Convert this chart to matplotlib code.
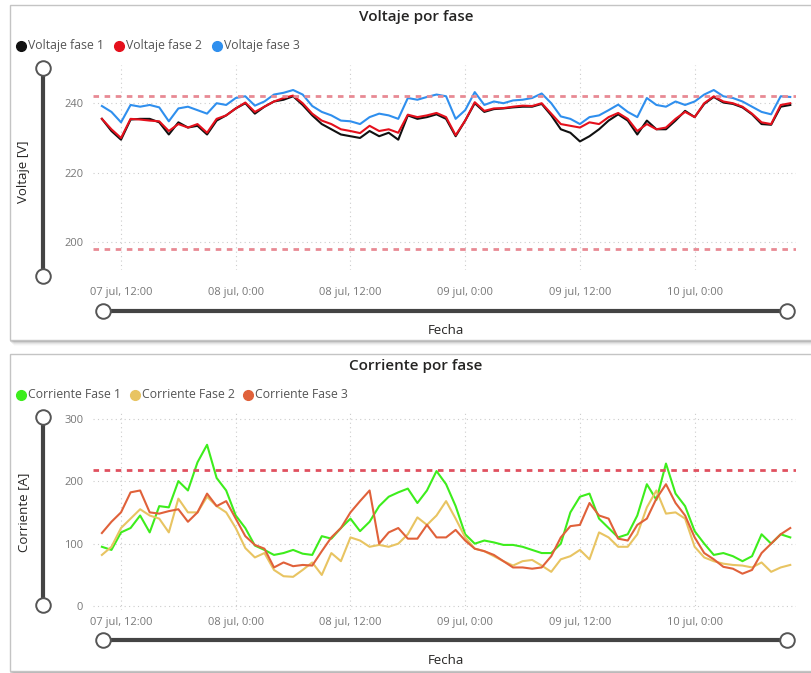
import numpy as np
import matplotlib.pyplot as plt
from matplotlib.patches import Rectangle

plt.rcParams['font.family'] = ['Open Sans', 'DejaVu Sans']

# horas desde el 07 jul 0:00
horas = np.arange(10, 83)

v_fase1 = [235.5, 232.0, 229.5, 235.3, 235.5, 235.5, 234.5, 231.0, 234.5, 233.0,
           233.5, 231.0, 235.0, 236.5, 238.5, 240.0, 237.0, 239.0, 240.5, 241.0,
           242.0, 239.5, 236.5, 234.0, 232.5, 231.0, 230.5, 230.0, 232.0, 230.5,
           231.5, 229.5, 236.5, 235.5, 236.0, 236.8, 235.5, 230.5, 235.0, 240.0,
           237.5, 238.3, 238.5, 238.8, 239.0, 239.0, 239.8, 236.5, 232.5, 231.5,
           229.0, 230.5, 232.5, 235.0, 236.8, 235.0, 231.0, 235.0, 232.5, 232.5,
           235.0, 237.8, 236.0, 239.8, 241.8, 240.2, 239.8, 238.8, 236.8, 234.0,
           233.8, 239.0, 239.5]
v_fase2 = [235.5, 232.5, 230.0, 235.5, 235.3, 235.0, 234.8, 232.0, 234.0, 233.0,
           234.0, 231.5, 235.5, 236.5, 238.5, 240.2, 237.5, 239.0, 240.5, 241.5,
           242.2, 240.0, 237.0, 235.0, 234.0, 232.5, 232.0, 231.4, 233.5, 232.0,
           232.5, 231.5, 236.7, 236.0, 236.5, 237.2, 236.0, 230.8, 235.0, 240.3,
           237.8, 238.5, 238.6, 239.0, 239.3, 239.2, 240.0, 237.0, 234.0, 233.5,
           233.0, 234.5, 234.0, 236.0, 237.2, 235.5, 232.0, 234.0, 232.5, 233.0,
           235.5, 237.5, 236.0, 240.0, 242.0, 240.5, 240.0, 239.0, 237.0, 234.5,
           234.0, 239.5, 240.0]
v_fase3 = [239.2, 237.5, 234.5, 239.5, 239.0, 239.5, 238.8, 234.8, 238.5, 239.0,
           238.0, 237.0, 240.0, 239.5, 241.5, 242.0, 239.3, 240.5, 242.5, 243.0,
           243.8, 242.5, 239.2, 237.5, 236.5, 235.0, 234.8, 234.0, 236.0, 237.0,
           236.5, 235.5, 241.5, 241.0, 241.8, 242.5, 242.0, 235.5, 238.0, 243.2,
           239.5, 240.5, 240.0, 240.8, 241.0, 241.5, 242.8, 240.0, 236.2, 235.5,
           234.0, 236.0, 236.5, 238.0, 239.6, 237.5, 236.0, 241.5, 239.5, 239.0,
           240.5, 239.5, 240.5, 242.5, 243.8, 242.0, 241.5, 240.5, 239.0, 237.5,
           236.8, 242.0, 241.8]

i_fase1 = [95, 90, 118, 125, 145, 118, 160, 158, 200, 185,
           230, 258, 205, 185, 145, 125, 97, 90, 82, 85,
           90, 84, 82, 112, 108, 125, 140, 120, 135, 160,
           175, 182, 188, 165, 185, 216, 195, 160, 115, 100,
           105, 102, 98, 98, 95, 90, 85, 85, 100, 150,
           175, 180, 140, 125, 110, 115, 145, 195, 170, 228,
           180, 160, 120, 100, 82, 85, 80, 72, 80, 115,
           100, 115, 110]
i_fase2 = [82, 95, 125, 140, 155, 145, 140, 118, 172, 150,
           150, 175, 160, 150, 125, 93, 78, 85, 58, 48,
           47, 58, 70, 50, 85, 72, 110, 105, 95, 98,
           95, 100, 115, 142, 130, 145, 168, 140, 110, 92,
           88, 80, 72, 65, 72, 74, 65, 55, 75, 80,
           90, 75, 118, 110, 95, 95, 115, 158, 185, 148,
           150, 140, 95, 78, 72, 68, 66, 65, 62, 70,
           55, 62, 66]
i_fase3 = [117, 135, 150, 182, 185, 150, 148, 152, 155, 135,
           150, 180, 160, 168, 140, 112, 98, 92, 62, 70,
           64, 66, 65, 88, 110, 125, 150, 168, 185, 100,
           118, 125, 108, 108, 130, 110, 110, 122, 105, 92,
           88, 82, 72, 62, 62, 60, 62, 80, 110, 128,
           130, 165, 145, 140, 108, 105, 130, 140, 172, 195,
           165, 145, 110, 85, 75, 63, 60, 52, 58, 85,
           100, 115, 125]

limites_v = [242, 198]
limite_i = 218

ticks_h = [12, 24, 36, 48, 60, 72]
ticks_lbl = ['07 jul, 12:00', '08 jul, 0:00', '08 jul, 12:00',
             '09 jul, 0:00', '09 jul, 12:00', '10 jul, 0:00']

W, H = 811, 673
fig = plt.figure(figsize=(W / 100, H / 100), dpi=100)

# capa de fondo en pixeles para marcos, sliders y textos
bg = fig.add_axes([0, 0, 1, 1], zorder=-1)
bg.set_xlim(0, W)
bg.set_ylim(H, 0)
bg.axis('off')

for y0, y1 in [(5, 340), (354, 671)]:
    for k, a in enumerate([0.12, 0.08, 0.05, 0.03, 0.02]):
        bg.add_patch(Rectangle((10 + k, y0 + 2 + k), 812, y1 - y0, color='k', alpha=a, lw=0))
    bg.add_patch(Rectangle((10, y0), 812, y1 - y0, fc='white', ec='#c4c4c4', lw=1))


def slider(x0, y0, x1, y1):
    bg.plot([x0, x1], [y0, y1], color='#444444', lw=3, solid_capstyle='butt', zorder=2)
    bg.plot([x0, x1], [y0, y1], 'o', ms=10.5, mfc='white', mec='#555555', mew=1.4, zorder=3)


def ax_px(x0, y0, x1, y1):
    a = fig.add_axes([x0 / W, 1 - y1 / H, (x1 - x0) / W, (y1 - y0) / H])
    a.set_facecolor('none')
    return a


def estilo(ax, yticks, pad_x):
    for s in ax.spines.values():
        s.set_visible(False)
    ax.set_xlim(9.07, 82.6)
    ax.set_xticks(ticks_h)
    ax.set_xticklabels(ticks_lbl)
    ax.set_yticks(yticks)
    ax.tick_params(length=0, labelsize=8, labelcolor='#777777')
    ax.tick_params(axis='x', pad=pad_x)
    ax.tick_params(axis='y', pad=7)
    ax.grid(True, color='#cccccc', lw=0.8, ls=(0, (1, 3)))


# ---- Voltaje ----
ax1 = ax_px(93, 65, 796, 270)
ax1.plot(horas, v_fase1, color='#111111', lw=1.5)
ax1.plot(horas, v_fase2, color='#e5101c', lw=1.5)
ax1.plot(horas, v_fase3, color='#2f8fee', lw=1.5)
for lv in limites_v:
    ax1.axhline(lv, color='#e88a94', lw=2, ls=(0, (2, 2)))
ax1.set_ylim(192, 251)
estilo(ax1, [200, 220, 240], 12)

bg.text(416, 17, 'Voltaje por fase', ha='center', va='center', fontsize=11, color='#252423', fontweight='semibold')
bg.text(446, 330, 'Fecha', ha='center', va='center', fontsize=9.5, color='#252423')
bg.text(24, 172, 'Voltaje [V]', ha='center', va='center', rotation=90, fontsize=9.5, color='#252423')
slider(43, 68, 43, 276)
slider(103, 311, 787, 311)

x = 21
for nombre, col in [('Voltaje fase 1', '#111111'), ('Voltaje fase 2', '#e5101c'), ('Voltaje fase 3', '#2f8fee')]:
    bg.plot(x, 46, 'o', ms=7, color=col)
    bg.text(x + 7, 46, nombre, ha='left', va='center', fontsize=8.8, color='#555555')
    x += 98

# ---- Corriente ----
ax2 = ax_px(93, 411, 796, 610)
ax2.plot(horas, i_fase1, color='#3ded1c', lw=1.5)
ax2.plot(horas, i_fase2, color='#e8c462', lw=1.5)
ax2.plot(horas, i_fase3, color='#e0613a', lw=1.5)
ax2.axhline(limite_i, color='#e0505f', lw=2, ls=(0, (2, 2)))
ax2.set_ylim(-6, 312)
estilo(ax2, [0, 100, 200, 300], 5)

bg.text(416, 366, 'Corriente por fase', ha='center', va='center', fontsize=11, color='#252423', fontweight='semibold')
bg.text(446, 660, 'Fecha', ha='center', va='center', fontsize=9.5, color='#252423')
bg.text(24, 512, 'Corriente [A]', ha='center', va='center', rotation=90, fontsize=9.5, color='#252423')
slider(43, 417, 43, 605)
slider(103, 640, 787, 640)

x = 21
for nombre, col, paso in [('Corriente Fase 1', '#3ded1c', 114), ('Corriente Fase 2', '#e8c462', 113), ('Corriente Fase 3', '#e0613a', 0)]:
    bg.plot(x, 395, 'o', ms=7, color=col)
    bg.text(x + 7, 395, nombre, ha='left', va='center', fontsize=8.8, color='#555555')
    x += paso

fig.savefig('out.png', dpi=100)
